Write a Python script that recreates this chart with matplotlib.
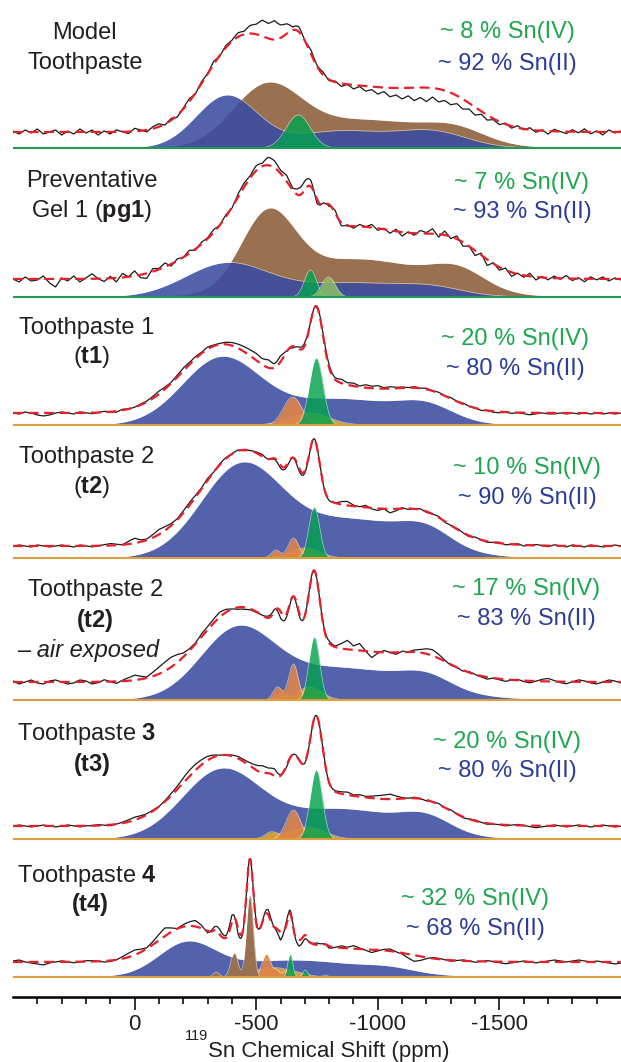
import numpy as np
import matplotlib.pyplot as plt

plt.rcParams['font.family'] = ['Liberation Sans', 'DejaVu Sans']
plt.rcParams['mathtext.fontset'] = 'custom'
plt.rcParams['mathtext.rm'] = 'Liberation Sans'
plt.rcParams['mathtext.bf'] = 'Liberation Sans:bold'
plt.rcParams['mathtext.it'] = 'Liberation Sans:italic'

W, H = 621, 1062

# deconvolution components: (species, centre / ppm, sigma / ppm, height)
COMP_MODEL = [('brown', -540, 140, 56), ('brown', -950, 280, 28), ('brown', -1320, 120, 12),
              ('blue', -378, 126, 52), ('blue', -850, 200, 17), ('blue', -1230, 140, 15),
              ('green', -673, 50, 33)]
COMP_PG1 = [('brown', -547, 110, 72), ('brown', -920, 290, 38), ('brown', -1330, 110, 18),
            ('blue', -377, 170, 33), ('blue', -900, 250, 14), ('blue', -1230, 120, 6),
            ('green', -723, 25, 27), ('lime', -797, 28, 20)]
COMP_T1 = [('blue', -353, 160, 65), ('blue', -850, 250, 26), ('blue', -1200, 110, 14),
           ('golden', -720, 80, 12), ('orange', -650, 38, 28), ('green', -747, 28, 67)]
COMP_T2 = [('blue', -435, 165, 88), ('blue', -900, 260, 38), ('blue', -1200, 100, 15),
           ('golden', -700, 60, 10), ('orange', -580, 18, 8), ('orange', -653, 22, 20),
           ('green', -739, 22, 51)]
COMP_T2AIR = [('blue', -418, 150, 63), ('blue', -850, 300, 32), ('blue', -1200, 100, 12),
              ('golden', -600, 20, 6), ('golden', -720, 50, 13), ('orange', -587, 18, 13),
              ('orange', -653, 20, 36), ('green', -739, 22, 63)]
COMP_T3 = [('blue', -353, 160, 66), ('blue', -850, 260, 30), ('blue', -1200, 100, 14),
           ('golden', -560, 25, 6), ('golden', -710, 70, 12), ('orange', -653, 30, 29),
           ('green', -747, 25, 69)]
COMP_T4 = [('blue', -213, 115, 30), ('blue', -650, 300, 17), ('blue', -1050, 100, 4),
           ('golden', -540, 60, 8), ('golden', -640, 60, 5),
           ('orange', -542, 18, 23), ('orange', -585, 12, 6), ('orange', -621, 12, 6),
           ('brown', -474, 14, 82), ('brown', -410, 15, 24), ('brown', -336, 12, 5),
           ('green', -640, 10, 23), ('green', -702, 10, 7), ('green', -784, 10, 2)]

# experimental minus fit, read every 25 ppm from +500 to -2000 ppm
RES_PPM = np.arange(500, -2001, -25)
RES_MODEL = [1, -2, 2, -1, 3, -2, 0, 2, -3, 1, -2, 3, -1, 2, -3, 1, -2, 2, 0, -2,
             3, 1, -2, 2, 3, -1, 2, -2, 1, 3, -1, 2, 0, 3, -1, 2, 1, 4, 3, 8,
             10, 16, 15, 19, 13, 10, 3, 5, 0, 4, 1, 3, -1, 1, -3, 0, -4, -1, -5, -3,
             -7, -4, -9, -7, -11, -8, -13, -10, -14, -9, -13, -10, -12, -8, -10, -6, -8, -3, -5, -1,
             -3, 1, -2, 2, -1, 2, -2, 1, -3, 2, 0, -2, 2, -1, 3, -2, 1, -3, 2, -1, 1]
RES_PG1 = [0, -3, 2, -2, -1, 3, -4, -8, 1, -2, 3, -3, 1, 5, 0, -3, 2, -4, 4, 0,
           5, -3, -5, 3, 1, 4, -2, 2, 0, 3, -1, 2, 1, 3, 0, 2, -1, 3, 4, 2,
           5, 3, 8, 7, 3, 6, 2, 7, 9, 6, -4, 2, -2, 3, -3, 1, -2, 2, 0, 3,
           -2, 1, -3, 2, -4, 1, -2, 3, 1, 5, -3, 4, -2, 3, -4, 0, -5, 2, -6, 1,
           -3, 2, -4, 1, -2, 3, -3, 1, -2, 2, -1, 3, -2, 1, -3, 2, -1, 2, -2, 1, -1]
RES_T1 = [0, -1, 1, 0, -2, -3, -2, 0, 1, 0, -1, 1, 0, -1, 0, 1, 0, -1, 1, 0,
          0, 1, 1, 2, 3, 2, 1, 2, 3, 2, 2, 1, 2, 1, 1, 2, 3, 4, 5, 6,
          7, 6, 8, 4, 6, 1, -2, 2, 3, 0, 1, 2, 3, 2, 4, 2, 3, 1, 3, 2,
          3, 1, 2, 1, 1, 0, 1, 0, 1, 0, 1, 0, 1, 0, 1, 0, 0, -1, 0, -1,
          -1, 0, -1, 0, -1, -2, -1, 0, -1, -1, 0, -1, 0, -1, 0, -1, 0, -1, 0, -1, 0]
RES_T2 = [0, 1, 0, -1, 1, 0, -1, 0, 1, 0, -1, 1, 0, -1, 0, 1, 2, 1, 0, 3,
          5, 2, 1, 3, 5, 4, 2, 1, 2, 3, 2, 1, 2, 0, 1, 1, 0, 1, -1, 0,
          1, 2, 0, -1, -3, -2, 0, -3, -2, 0, 1, 0, -1, 0, 3, 4, 1, 0, 2, -1,
          -2, 0, -4, -2, 1, -1, 0, 1, -1, 0, 1, -1, 0, 1, 0, -1, 1, 0, -1, 0,
          1, -1, 0, 1, -1, 0, 1, 0, -1, 1, 0, -1, 1, 0, -1, 1, 0, -1, 0, 1, 0]
RES_T2AIR = [1, -2, 0, 2, -1, -2, 1, 2, 0, -2, -1, 2, 1, -2, -1, 2, 0, -2, 1, 3,
             5, 3, 1, 4, 7, 9, 10, 8, 4, 2, 1, 3, 3, 4, 5, 3, 0, -2, -2, -1,
             -1, 0, 2, 2, -7, -3, 0, -3, 0, 1, 0, 1, 2, 1, 5, 9, 4, 7, 0, -6,
             -1, 2, 0, -2, 1, 0, 2, 3, 5, 6, 4, 1, -1, 0, -1, 1, 0, -1, -2, 0,
             -1, -2, 0, 1, -1, -2, 0, 2, 3, 1, -1, -2, 0, 2, 1, -1, -2, 0, 2, 1, -1]
RES_T3 = [0, 1, 0, -1, 0, 1, 0, -1, 0, 1, 0, -1, 0, 0, 1, 0, -1, 0, 1, 2,
          3, 2, 1, 1, 0, 1, 2, 3, 5, 6, 6, 5, 4, 2, 0, 0, 1, 2, 2, 3,
          5, 7, 5, 7, 1, -2, 0, 1, -1, 0, 0, 1, 0, 1, 2, 3, 1, 2, 1, 2,
          3, 4, 5, 3, 1, 0, 1, 0, -1, 0, 1, 0, 1, 0, -1, 0, 1, 0, -1, 0,
          0, -1, 0, 1, 0, -1, -2, -1, 0, 1, 0, -1, 0, 1, 0, -1, 0, 1, 0, -1, 0]
RES_T4 = [1, 2, 0, -1, -2, -3, -1, 0, 1, 0, -1, 0, 1, 1, 0, -1, -1, 0, 2, 4,
          5, 3, 1, 3, 6, 8, 4, 0, 2, 4, 6, 3, -2, 3, 5, 2, 7, -6, 0, 0,
          2, 0, 5, 0, -8, 4, 2, -6, -4, 0, 2, 1, -2, 0, 2, 1, 3, 1, -1, -3,
          -1, 1, 2, 0, -1, -4, -6, -4, -1, 1, 1, 0, -1, 0, 1, 0, -1, 0, 1, 0,
          -1, -2, -1, 0, 1, 0, -1, 0, 1, 2, 1, 0, 1, 2, 1, 0, 1, 0, -1, -2, -1]

SAMPLES = [COMP_MODEL, COMP_PG1, COMP_T1, COMP_T2, COMP_T2AIR, COMP_T3, COMP_T4]
RESIDUALS = [RES_MODEL, RES_PG1, RES_T1, RES_T2, RES_T2AIR, RES_T3, RES_T4]
SN4 = [8, 7, 20, 10, 17, 20, 32]
SN2 = [92, 93, 80, 90, 83, 80, 68]
NAMES = [['Model', 'Toothpaste'],
         ['Preventative', r'Gel 1 ($\mathbf{pg1}$)'],
         ['Toothpaste 1', r'($\mathbf{t1}$)'],
         ['Toothpaste 2', r'($\mathbf{t2}$)'],
         ['Toothpaste 2', r'$\mathbf{(t2)}$', '– air exposed'],
         [r'Toothpaste $\mathbf{3}$', r'$\mathbf{(t3)}$'],
         [r'Toothpaste $\mathbf{4}$', r'$\mathbf{(t4)}$']]
TICKS = [0, -500, -1000, -1500]
TICK_LABELS = ['0', '-500', '-1000', '-1500']
XLABEL_SUP = '119'
XLABEL_MAIN = 'Sn Chemical Shift (ppm)'

# layout (pixels from top of the figure)
BASE_PX = [148, 297, 425, 558, 700, 839, 977]
FIT_OFF = [16, 18, 12, 12, 18, 13, 15]
NAME_POS = [[(84, 33), (85, 63)], [(92, 181), (92, 211)], [(87, 328), (92, 357)],
            [(87, 457), (92, 487)], [(96, 590), (95, 621), (88, 651)],
            [(87, 734), (92, 764)], [(87, 876), (90, 905)]]
PCT_POS = [(507, 32, 64), (522, 183, 212), (515, 339, 369), (527, 468, 498),
           (526, 589, 619), (507, 742, 771), (475, 899, 929)]
ORDER = [['brown', 'blue', 'green', 'lime'], ['brown', 'blue', 'green', 'lime']] + \
        [['blue', 'golden', 'orange', 'green']] * 4 + [['blue', 'golden', 'orange', 'brown', 'green']]
BASE_COL = ['#1c9b58', '#1c9b58'] + ['#d9a03c'] * 5
STYLE = {'brown': ('#9a7150', 1.0), 'blue': ('#3a4ca0', 0.88), 'golden': ('#dba236', 0.95),
         'orange': ('#e0844a', 0.9), 'green': ('#03a24f', 0.82), 'lime': ('#8cc063', 0.85)}
TEXT_COL = '#231f20'
GREEN_TXT = '#1fa64f'
BLUE_TXT = '#2b3d98'

x = np.linspace(500, -2000, 2501)


def gauss(c, s, h):
    return h * np.exp(-0.5 * ((x - c) / s) ** 2)


fig = plt.figure(figsize=(W / 100, H / 100), dpi=100)
ax = fig.add_axes([13 / W, 65 / H, 608 / W, 997 / H])
ax.set_xlim(500, -2000)
ax.set_ylim(0, 997)

for k, comps in enumerate(SAMPLES):
    base = 997 - BASE_PX[k]
    total = np.zeros_like(x)
    for sp in ORDER[k]:
        parts = [gauss(c, s, h) for (name, c, s, h) in comps if name == sp]
        if not parts:
            continue
        y = np.sum(parts, axis=0)
        total += y
        col, alp = STYLE[sp]
        ax.fill_between(x, base, base + y, color=col, alpha=alp, lw=0, zorder=2)
        ax.plot(x, base + y, color='white', lw=0.5, alpha=0.6, zorder=2)
    ax.plot(x, np.full_like(x, base), color=BASE_COL[k], lw=1.5, zorder=3)

    fit = base + FIT_OFF[k] + total
    res = np.interp(x, RES_PPM[::-1], np.array(RESIDUALS[k], float)[::-1])
    ax.plot(x, fit + res, color='#1a1a1a', lw=0.9, zorder=4)
    ax.plot(x, fit, color='#e5202b', lw=1.6, dashes=(4.5, 2.5), zorder=5)

    # sample name
    for txt, (px, py) in zip(NAMES[k], NAME_POS[k]):
        style = 'italic' if txt.startswith('–') else 'normal'
        fig.text(px / W, 1 - py / H, txt, ha='center', va='center', fontsize=17,
                 color=TEXT_COL, style=style)

    # Sn(IV) / Sn(II) fractions
    cx, y4, y2 = PCT_POS[k]
    fig.text(cx / W, 1 - y4 / H, f'~ {SN4[k]} % Sn(IV)', ha='center', va='center',
             fontsize=17, color=GREEN_TXT)
    fig.text(cx / W, 1 - y2 / H, f'~ {SN2[k]} % Sn(II)', ha='center', va='center',
             fontsize=17, color=BLUE_TXT)

for side in ['top', 'left', 'right']:
    ax.spines[side].set_visible(False)
ax.spines['bottom'].set_linewidth(1.8)
ax.set_yticks([])
ax.set_xticks(TICKS)
ax.set_xticklabels(TICK_LABELS)
ax.set_xticks(np.arange(400, -2000, -100), minor=True)
ax.tick_params(axis='x', which='major', direction='out', length=9.4, width=1.3,
               labelsize=16, pad=2.5, colors=TEXT_COL)
ax.tick_params(axis='x', which='minor', direction='out', length=4.8, width=1.3, colors=TEXT_COL)

# axis title with a superscript mass number, centred under the axis
sup = fig.text(0, 1 - 1040 / H, XLABEL_SUP, fontsize=10.5, color=TEXT_COL, va='baseline')
main = fig.text(0, 1 - 1061.5 / H, XLABEL_MAIN, fontsize=16, color=TEXT_COL, va='bottom')
fig.canvas.draw()
r = fig.canvas.get_renderer()
w_sup = sup.get_window_extent(r).width
w_main = main.get_window_extent(r).width
x0 = 317 - (w_sup + w_main) / 2
sup.set_x(x0 / W)
main.set_x((x0 + w_sup) / W)

fig.savefig('out.png', dpi=100)
